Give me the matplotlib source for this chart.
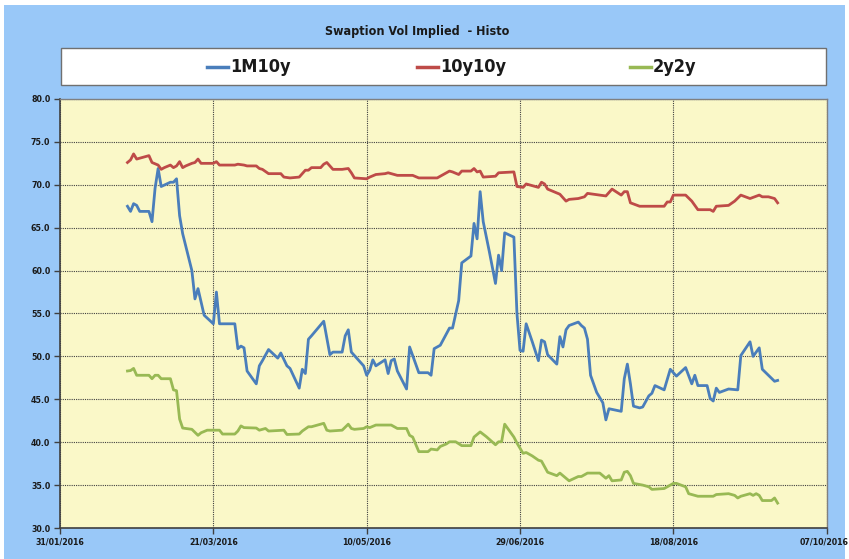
import matplotlib
matplotlib.use("Agg")
import matplotlib.pyplot as plt
import matplotlib.dates as mdates
import matplotlib.transforms as mtransforms
from matplotlib.patches import Rectangle
from matplotlib.lines import Line2D
import pandas as pd

TITLE = "Swaption Vol Implied  - Histo"
SERIES_NAMES = ["1M10y", "10y10y", "2y2y"]
X_TICKS = ["2016-01-31", "2016-03-21", "2016-05-10", "2016-06-29", "2016-08-18", "2016-10-07"]
Y_TICKS = [30, 35, 40, 45, 50, 55, 60, 65, 70, 75, 80]

dates_1m10y = [
    "2016-02-22", "2016-02-23", "2016-02-24", "2016-02-25", "2016-02-26", "2016-02-29",
    "2016-03-01", "2016-03-02", "2016-03-03", "2016-03-04", "2016-03-07", "2016-03-08",
    "2016-03-09", "2016-03-10", "2016-03-11", "2016-03-14", "2016-03-15", "2016-03-16",
    "2016-03-18", "2016-03-21", "2016-03-22", "2016-03-23", "2016-03-28", "2016-03-29",
    "2016-03-30", "2016-03-31", "2016-04-01", "2016-04-04", "2016-04-05", "2016-04-06",
    "2016-04-08", "2016-04-11", "2016-04-12", "2016-04-14", "2016-04-15", "2016-04-18",
    "2016-04-19", "2016-04-20", "2016-04-21", "2016-04-22", "2016-04-26", "2016-04-28",
    "2016-04-29", "2016-05-02", "2016-05-03", "2016-05-04", "2016-05-05", "2016-05-07",
    "2016-05-09", "2016-05-10", "2016-05-11", "2016-05-12", "2016-05-13", "2016-05-16",
    "2016-05-17", "2016-05-18", "2016-05-19", "2016-05-20", "2016-05-23", "2016-05-24",
    "2016-05-25", "2016-05-27", "2016-05-30", "2016-05-31", "2016-06-01", "2016-06-03",
    "2016-06-06", "2016-06-07", "2016-06-09", "2016-06-10", "2016-06-13", "2016-06-14",
    "2016-06-15", "2016-06-16", "2016-06-17", "2016-06-19", "2016-06-21", "2016-06-22",
    "2016-06-23", "2016-06-24", "2016-06-27", "2016-06-28", "2016-06-29", "2016-06-30",
    "2016-07-01", "2016-07-03", "2016-07-05", "2016-07-06", "2016-07-07", "2016-07-08",
    "2016-07-11", "2016-07-12", "2016-07-13", "2016-07-14", "2016-07-15", "2016-07-18",
    "2016-07-19", "2016-07-20", "2016-07-21", "2016-07-22", "2016-07-24", "2016-07-26",
    "2016-07-27", "2016-07-28", "2016-08-01", "2016-08-02", "2016-08-03", "2016-08-04",
    "2016-08-05", "2016-08-07", "2016-08-08", "2016-08-10", "2016-08-11", "2016-08-12",
    "2016-08-15", "2016-08-17", "2016-08-19", "2016-08-22", "2016-08-24", "2016-08-25",
    "2016-08-26", "2016-08-29", "2016-08-30", "2016-08-31", "2016-09-01", "2016-09-02",
    "2016-09-05", "2016-09-08", "2016-09-09", "2016-09-12", "2016-09-13", "2016-09-15",
    "2016-09-16", "2016-09-18", "2016-09-20", "2016-09-21",
]
values_1m10y = [
    67.5, 66.9, 67.8, 67.6, 66.9, 66.9,
    65.7, 69.6, 71.9, 69.8, 70.3, 70.3,
    70.7, 66.4, 64.3, 60.0, 56.7, 57.9,
    54.8, 53.8, 57.5, 53.8, 53.8, 50.9,
    51.2, 51.0, 48.3, 46.8, 48.9, 49.5,
    50.8, 49.8, 50.4, 48.9, 48.6, 46.3,
    48.5, 48.0, 52.0, 52.4, 54.1, 50.2,
    50.5, 50.5, 52.4, 53.1, 50.5, 49.7,
    48.9, 47.8, 48.4, 49.6, 48.9, 49.6,
    48.0, 49.5, 49.7, 48.3, 46.2, 51.1,
    50.1, 48.1, 48.1, 47.8, 50.9, 51.3,
    53.3, 53.3, 56.5, 60.9, 61.7, 65.5,
    63.7, 69.2, 65.7, 62.2, 58.5, 61.8,
    60.0, 64.4, 63.9, 55.0, 50.7, 50.6,
    53.8, 51.7, 49.5, 51.9, 51.7, 50.2,
    49.1, 52.3, 51.1, 53.1, 53.6, 54.0,
    53.6, 53.3, 52.0, 47.8, 45.8, 44.6,
    42.6, 43.9, 43.6, 47.4, 49.1, 46.8,
    44.2, 44.0, 44.1, 45.4, 45.7, 46.6,
    46.1, 48.5, 47.7, 48.7, 46.8, 47.8,
    46.6, 46.6, 45.1, 44.8, 46.3, 45.8,
    46.2, 46.1, 50.1, 51.7, 50.0, 51.0,
    48.5, 47.8, 47.1, 47.2,
]

dates_10y10y = [
    "2016-02-22", "2016-02-23", "2016-02-24", "2016-02-25", "2016-02-27", "2016-02-29",
    "2016-03-01", "2016-03-03", "2016-03-04", "2016-03-05", "2016-03-07", "2016-03-08",
    "2016-03-09", "2016-03-10", "2016-03-11", "2016-03-12", "2016-03-14", "2016-03-15",
    "2016-03-16", "2016-03-17", "2016-03-21", "2016-03-22", "2016-03-23", "2016-03-28",
    "2016-03-29", "2016-03-31", "2016-04-01", "2016-04-04", "2016-04-05", "2016-04-06",
    "2016-04-08", "2016-04-12", "2016-04-13", "2016-04-15", "2016-04-18", "2016-04-20",
    "2016-04-21", "2016-04-22", "2016-04-25", "2016-04-26", "2016-04-27", "2016-04-29",
    "2016-05-02", "2016-05-04", "2016-05-05", "2016-05-06", "2016-05-10", "2016-05-11",
    "2016-05-13", "2016-05-16", "2016-05-17", "2016-05-20", "2016-05-25", "2016-05-27",
    "2016-06-02", "2016-06-04", "2016-06-06", "2016-06-07", "2016-06-09", "2016-06-10",
    "2016-06-13", "2016-06-14", "2016-06-15", "2016-06-16", "2016-06-17", "2016-06-21",
    "2016-06-22", "2016-06-27", "2016-06-28", "2016-06-30", "2016-07-01", "2016-07-03",
    "2016-07-05", "2016-07-06", "2016-07-07", "2016-07-08", "2016-07-12", "2016-07-14",
    "2016-07-15", "2016-07-18", "2016-07-20", "2016-07-21", "2016-07-25", "2016-07-27",
    "2016-07-29", "2016-08-01", "2016-08-02", "2016-08-03", "2016-08-04", "2016-08-07",
    "2016-08-15", "2016-08-16", "2016-08-17", "2016-08-18", "2016-08-22", "2016-08-24",
    "2016-08-26", "2016-08-30", "2016-08-31", "2016-09-01", "2016-09-05", "2016-09-07",
    "2016-09-09", "2016-09-12", "2016-09-15", "2016-09-16", "2016-09-18", "2016-09-20",
    "2016-09-21",
]
values_10y10y = [
    72.6, 72.9, 73.6, 73.0, 73.2, 73.4,
    72.6, 72.3, 71.8, 72.0, 72.3, 72.0,
    72.2, 72.7, 72.0, 72.2, 72.5, 72.6,
    73.0, 72.5, 72.5, 72.7, 72.3, 72.3,
    72.4, 72.3, 72.2, 72.2, 71.9, 71.8,
    71.3, 71.3, 70.9, 70.8, 70.9, 71.7,
    71.7, 72.0, 72.0, 72.4, 72.6, 71.8,
    71.8, 71.9, 71.4, 70.8, 70.7, 70.9,
    71.2, 71.3, 71.4, 71.1, 71.1, 70.8,
    70.8, 71.2, 71.6, 71.5, 71.2, 71.6,
    71.6, 71.9, 71.5, 71.6, 70.9, 71.0,
    71.4, 71.5, 69.8, 69.7, 70.1, 69.9,
    69.7, 70.3, 70.1, 69.5, 68.9, 68.1,
    68.3, 68.4, 68.6, 69.0, 68.8, 68.7,
    69.5, 68.8, 69.2, 69.2, 67.9, 67.5,
    67.5, 68.0, 68.0, 68.8, 68.8, 68.1,
    67.1, 67.1, 66.9, 67.5, 67.6, 68.1,
    68.8, 68.4, 68.8, 68.6, 68.6, 68.4,
    67.9,
]

dates_2y2y = [
    "2016-02-22", "2016-02-23", "2016-02-24", "2016-02-25", "2016-02-29", "2016-03-01",
    "2016-03-02", "2016-03-03", "2016-03-04", "2016-03-07", "2016-03-08", "2016-03-09",
    "2016-03-10", "2016-03-11", "2016-03-14", "2016-03-15", "2016-03-16", "2016-03-17",
    "2016-03-19", "2016-03-23", "2016-03-24", "2016-03-28", "2016-03-29", "2016-03-30",
    "2016-03-31", "2016-04-04", "2016-04-05", "2016-04-06", "2016-04-07", "2016-04-08",
    "2016-04-13", "2016-04-14", "2016-04-18", "2016-04-19", "2016-04-21", "2016-04-22",
    "2016-04-26", "2016-04-27", "2016-04-28", "2016-05-02", "2016-05-04", "2016-05-05",
    "2016-05-06", "2016-05-09", "2016-05-10", "2016-05-11", "2016-05-13", "2016-05-18",
    "2016-05-20", "2016-05-23", "2016-05-24", "2016-05-25", "2016-05-27", "2016-05-30",
    "2016-05-31", "2016-06-02", "2016-06-03", "2016-06-05", "2016-06-06", "2016-06-08",
    "2016-06-10", "2016-06-13", "2016-06-14", "2016-06-16", "2016-06-18", "2016-06-21",
    "2016-06-22", "2016-06-23", "2016-06-24", "2016-06-27", "2016-06-28", "2016-06-30",
    "2016-07-01", "2016-07-03", "2016-07-05", "2016-07-06", "2016-07-08", "2016-07-11",
    "2016-07-12", "2016-07-13", "2016-07-15", "2016-07-18", "2016-07-19", "2016-07-21",
    "2016-07-25", "2016-07-27", "2016-07-28", "2016-07-29", "2016-08-01", "2016-08-02",
    "2016-08-03", "2016-08-04", "2016-08-05", "2016-08-08", "2016-08-10", "2016-08-11",
    "2016-08-15", "2016-08-16", "2016-08-18", "2016-08-19", "2016-08-22", "2016-08-23",
    "2016-08-26", "2016-08-31", "2016-09-01", "2016-09-05", "2016-09-07", "2016-09-08",
    "2016-09-09", "2016-09-12", "2016-09-13", "2016-09-14", "2016-09-15", "2016-09-16",
    "2016-09-19", "2016-09-20", "2016-09-21",
]
values_2y2y = [
    48.3, 48.35, 48.6, 47.8, 47.8, 47.4,
    47.8, 47.8, 47.4, 47.4, 46.1, 46.0,
    42.7, 41.65, 41.5, 41.15, 40.8, 41.1,
    41.4, 41.4, 40.95, 40.95, 41.3, 41.9,
    41.7, 41.65, 41.4, 41.5, 41.6, 41.3,
    41.4, 40.9, 40.95, 41.3, 41.8, 41.8,
    42.2, 41.4, 41.3, 41.4, 42.1, 41.6,
    41.5, 41.6, 41.8, 41.7, 42.0, 42.0,
    41.6, 41.6, 40.8, 40.6, 38.9, 38.9,
    39.2, 39.1, 39.5, 39.8, 40.05, 40.05,
    39.6, 39.6, 40.6, 41.2, 40.65, 39.7,
    40.05, 40.05, 42.1, 40.6, 39.9, 38.7,
    38.8, 38.4, 37.9, 37.8, 36.5, 36.1,
    36.4, 36.1, 35.5, 36.0, 36.0, 36.4,
    36.4, 35.8, 36.1, 35.5, 35.6, 36.5,
    36.6, 36.1, 35.2, 35.0, 34.8, 34.5,
    34.6, 34.8, 35.2, 35.2, 34.8, 34.0,
    33.7, 33.7, 33.9, 34.0, 33.8, 33.5,
    33.7, 34.0, 33.8, 34.0, 33.8, 33.2,
    33.2, 33.5, 32.9,
]

COLORS = ["#4A7EBB", "#BE4B48", "#98B954"]
BG_BLUE = "#99C8F8"
PLOT_BG = "#FAF8C8"
FONT = ["DejaVu Sans"]

plt.rcParams["font.family"] = FONT
plt.rcParams["font.stretch"] = "condensed"

W, H = 849, 559
fig = plt.figure(figsize=(W / 100, H / 100), dpi=100, facecolor="white")

fig.patches.append(Rectangle((4 / W, 0), (845 - 4) / W, (H - 5) / H,
                             transform=fig.transFigure, facecolor=BG_BLUE,
                             edgecolor="none", zorder=-10))

left, right = 60 / W, 826.7 / W
top, bottom = 1 - 99 / H, 1 - 528 / H
ax = fig.add_axes([left, bottom, right - left, top - bottom])
ax.set_facecolor(PLOT_BG)

series = [
    (dates_1m10y, values_1m10y),
    (dates_10y10y, values_10y10y),
    (dates_2y2y, values_2y2y),
]
for (d, v), c, name in zip(series, COLORS, SERIES_NAMES):
    ax.plot(pd.to_datetime(d), v, color=c, lw=2.0, label=name,
            solid_joinstyle="round", zorder=3)

xt = pd.to_datetime(X_TICKS)
ax.set_xlim(xt[0], xt[-1])
ax.set_ylim(Y_TICKS[0], Y_TICKS[-1])
ax.set_xticks(xt)
ax.xaxis.set_major_formatter(mdates.DateFormatter("%d/%m/%Y"))
ax.set_yticks(Y_TICKS)
ax.set_yticklabels([f"{t:.1f}" for t in Y_TICKS])

ax.grid(True, color="#404040", linestyle=(0, (1, 1)), linewidth=0.8, zorder=1)
ax.set_axisbelow(True)
for s in ["left", "bottom"]:
    ax.spines[s].set_color("#404040")
    ax.spines[s].set_linewidth(1.2)
for s in ["top", "right"]:
    ax.spines[s].set_color("#808080")
    ax.spines[s].set_linewidth(1.0)

ax.tick_params(axis="both", direction="out", length=4, width=1, color="#404040",
               labelsize=6.3, pad=3)
for lab in ax.get_xticklabels() + ax.get_yticklabels():
    lab.set_fontweight("bold")
    lab.set_fontstretch("condensed")
    lab.set_color("#1a1a1a")

# nudge the last date label slightly inward so it stays inside the figure
last = ax.get_xticklabels()[-1]
last.set_transform(last.get_transform() +
                   mtransforms.ScaledTranslation(-3 / 100, 0, fig.dpi_scale_trans))

fig.text(417 / W, 1 - 32 / H, TITLE, ha="center", va="center", fontsize=9,
         fontweight="bold", fontstretch="condensed", color="#1a1a1a")

# legend box and entries
lx0, lx1 = 61 / W, 826 / W
ly0, ly1 = 1 - 85 / H, 1 - 48 / H
fig.patches.append(Rectangle((lx0, ly0), lx1 - lx0, ly1 - ly0, transform=fig.transFigure,
                             facecolor="white", edgecolor="#707070", linewidth=1.0, zorder=1))
entry_x = [207, 417, 630]
ly = 1 - 67 / H
for xs, c, name in zip(entry_x, COLORS, SERIES_NAMES):
    fig.add_artist(Line2D([xs / W, (xs + 21) / W], [ly, ly], color=c, lw=2.5,
                          transform=fig.transFigure, zorder=2))
    fig.text((xs + 23) / W, ly, name, ha="left", va="center", fontsize=13,
             fontweight="bold", fontstretch="condensed", color="#1a1a1a", zorder=2)

fig.savefig("out.png", dpi=100, facecolor="white")
